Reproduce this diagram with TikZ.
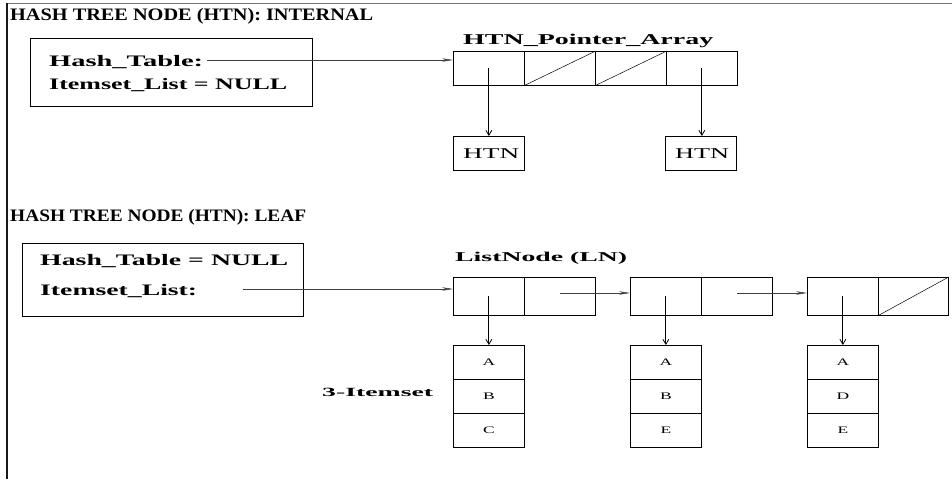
\documentclass[tikz,border=0pt]{standalone}
\usepackage{fontspec}
\usepackage{graphicx}
\setmainfont{Liberation Serif}
\usetikzlibrary{arrows.meta,calc}

% text set at a given size, then stretched horizontally to a given width
\newcommand{\wtxt}[3]{\resizebox{#1pt}{\height}{\fontsize{#2}{#2}\selectfont #3}}
% small item letter, widened like the rest of the labels
\newcommand{\itm}[1]{\scalebox{1.75}[1]{\fontsize{10}{10}\selectfont #1}}

\tikzset{
  box/.style={draw, line width=0.7pt, inner sep=0pt, anchor=north west},
  cell/.style={box, minimum width=71pt, minimum height=34pt},
  lcell/.style={box, minimum width=71pt, minimum height=38pt},
  lbl/.style={inner sep=0pt, anchor=base west},
  ptr/.style={draw=black!75, line width=0.5pt, -{Stealth[length=11pt,width=3.5pt]}},
  down/.style={line width=0.8pt, -{Straight Barb[length=5pt,width=6pt]}},
  slash/.style={line width=0.5pt},
}

\begin{document}
\begin{tikzpicture}[x=1pt,y=-1pt]
\useasboundingbox (0,0) rectangle (952,479);

% page frame
\draw[black!55, line width=1pt] (7,3) -- (952,3);
\draw[black!90, line width=2pt] (7,2.5) -- (7,479);

% ---------- internal node ----------
\node[lbl] (t1) at (10,20.5) {\wtxt{363}{17.5}{\bfseries HASH TREE NODE (HTN): INTERNAL}};
\node[box, minimum width=282pt, minimum height=68pt] (b1) at (30,38) {};
\node[lbl] (ht1) at (49,66) {\wtxt{154}{16}{\bfseries Hash\_Table:}};
\node[lbl] (il1) at (49,89) {\wtxt{238}{16}{\bfseries Itemset\_List = NULL}};

\node[lbl] (pal) at (463,44) {\wtxt{250}{15}{\bfseries HTN\_Pointer\_Array}};
\node[cell] (p1) at (453,51) {};
\node[cell] (p2) at (524,51) {};
\node[cell] (p3) at (595,51) {};
\node[cell] (p4) at (666,51) {};
\draw[slash] (p2.south west) -- (p2.north east);
\draw[slash] (p3.south west) -- (p3.north east);

\node[cell] (h1) at (453,136) {};
\node[cell] (h2) at (665,136) {};
\node[lbl] (h1t) at (463,158) {\wtxt{56}{15}{HTN}};
\node[lbl] (h2t) at (675,158) {\wtxt{54}{15}{HTN}};

\coordinate (hs) at (207,60);
\draw[ptr] (hs) -- (hs -| p1.west);
\draw[down] (p1.center) -- (p1.center |- h1.north);
\draw[down] (p4.center) -- (p4.center |- h2.north);

% ---------- leaf node ----------
\node[lbl] (t2) at (10,221.5) {\wtxt{296}{17.5}{\bfseries HASH TREE NODE (HTN): LEAF}};
\node[box, minimum width=281pt, minimum height=73pt] (b2) at (22,243) {};
\node[lbl] (ht2) at (40,265) {\wtxt{248}{16}{\bfseries Hash\_Table = NULL}};
\node[lbl] (il2) at (40,295) {\wtxt{157}{16}{\bfseries Itemset\_List:}};

\node[lbl] (lnl) at (455,261) {\wtxt{172}{13.5}{\bfseries ListNode (LN)}};
\node[lcell] (l1a) at (453,277) {};
\node[lcell] (l1b) at (524,277) {};
\node[lcell] (l2a) at (630,277) {};
\node[lcell] (l2b) at (701,277) {};
\node[lcell] (l3a) at (807,277) {};
\node[lcell, minimum width=70pt] (l3b) at (878,277) {};
\draw[slash] (l3b.south west) -- (l3b.north east);

\coordinate (is) at (243,289);
\coordinate (n1) at (560,293);
\coordinate (n2) at (737,293);
\draw[ptr] (is) -- (is -| l1a.west);
\draw[ptr] (n1) -- (n1 -| l2a.west);
\draw[ptr] (n2) -- (n2 -| l3a.west);

% itemsets
\foreach \c/\x/\a/\b/\d in {1/453/A/B/C, 2/630/A/B/E, 3/807/A/D/E}{
  \node[cell] (s\c a) at (\x,345) {\itm{\a}};
  \node[cell] (s\c b) at (\x,379) {\itm{\b}};
  \node[cell] (s\c c) at (\x,413) {\itm{\d}};
}
\draw[down] (l1a.center) -- (s1a.north);
\draw[down] (l2a.center) -- (s2a.north);
\draw[down] (l3a.center) -- (s3a.north);

\node[lbl] (its) at (322,396) {\wtxt{111}{12.5}{\bfseries 3-Itemset}};
\end{tikzpicture}
\end{document}
